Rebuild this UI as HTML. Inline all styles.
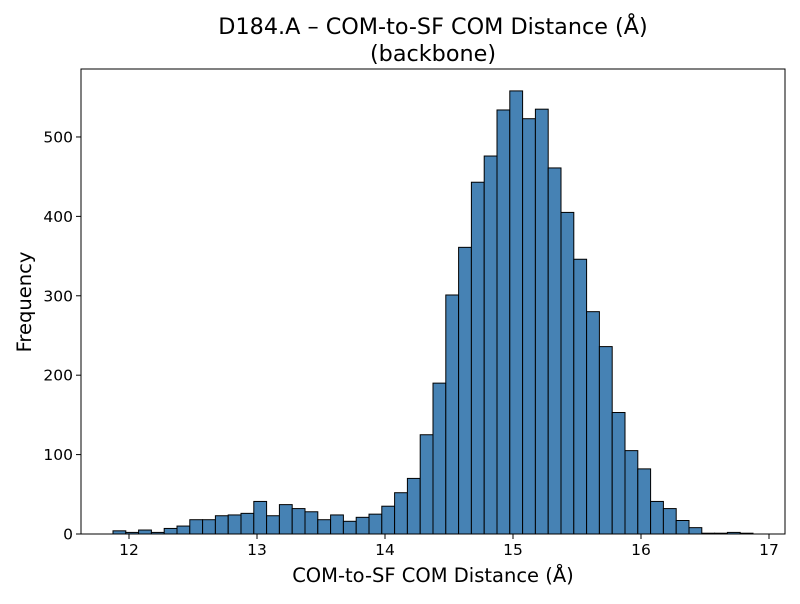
<!DOCTYPE html>
<html><head><meta charset="utf-8"><style>
body{margin:0;background:#fff;font-family:"DejaVu Sans","Liberation Sans",sans-serif;}
</style></head><body>
<svg id="chart" width="800" height="600" xmlns="http://www.w3.org/2000/svg" font-family="DejaVu Sans, Liberation Sans, sans-serif"></svg>
<script>
const binStart = 11.875;
const binWidth = 0.1;
const counts = [4,2,5,2,7,10,18,18,23,24,26,41,23,37,32,28,18,24,16,21,25,35,52,70,125,190,301,361,443,476,534,558,523,535,461,405,346,280,236,153,105,82,41,32,17,8,1,1,2,1];
const xTicks = [12,13,14,15,16,17];
const yTicks = [0,100,200,300,400,500];

const L=81,R=785,T=69,B=534;
const xMin=11.625,xMax=17.125,yMax=585.6;
const sx=v=>L+(v-xMin)/(xMax-xMin)*(R-L);
const sy=v=>B-v/yMax*(B-T);
const svg=document.getElementById('chart');
const NS='http://www.w3.org/2000/svg';
function mk(tag,attrs,parent){const e=document.createElementNS(NS,tag);for(const k in attrs)e.setAttribute(k,attrs[k]);(parent||svg).appendChild(e);return e;}

const bars=mk('g',{});


counts.forEach((c,i)=>{
  const x0=sx(binStart+i*binWidth),x1=sx(binStart+(i+1)*binWidth);
  const r=mk('rect',{x:x0,y:sy(c),width:x1-x0,height:B-sy(c),fill:'#4682b4',stroke:'#000','stroke-width':1},bars);
  
  
});
const frame=mk('rect',{x:L,y:T,width:R-L,height:B-T,fill:'none',stroke:'#000','stroke-width':1});



xTicks.forEach(t=>{
  const x=sx(t);
  mk('line',{x1:x,x2:x,y1:B,y2:B+5,stroke:'#000'});
  const tx=mk('text',{x:x,y:B+21,'text-anchor':'middle','font-size':15.5});
  tx.textContent=t;
  
  
});
yTicks.forEach(t=>{
  const y=sy(t);
  mk('line',{x1:L-5,x2:L,y1:y,y2:y,stroke:'#000'});
  const tx=mk('text',{x:L-8,y:y+5.5,'text-anchor':'end','font-size':15.5});
  tx.textContent=t;
  
  
});
let t=mk('text',{x:433,y:582,'text-anchor':'middle','font-size':19.5});
t.textContent='COM-to-SF COM Distance (Å)';


t=mk('text',{x:31,y:302,'text-anchor':'middle','font-size':19.5,transform:'rotate(-90 31 302)'});
t.textContent='Frequency';


t=mk('text',{x:433,y:34,'text-anchor':'middle','font-size':22.3});
t.textContent='D184.A – COM-to-SF COM Distance (Å)';


t=mk('text',{x:433,y:61,'text-anchor':'middle','font-size':22.3});
t.textContent='(backbone)';


</script>
</body></html>
